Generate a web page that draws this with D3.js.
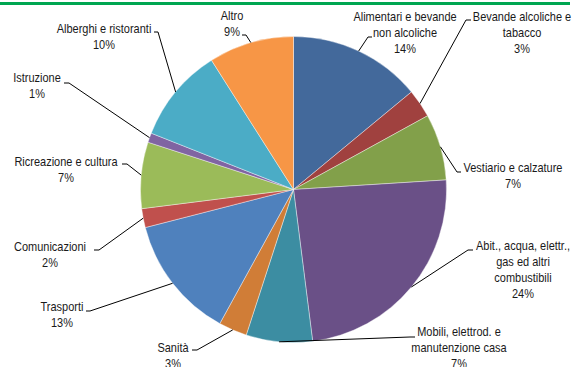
<!DOCTYPE html>
<html>
<head>
<meta charset="utf-8">
<script src="https://cdn.jsdelivr.net/npm/d3@7"></script>
<style>
  html, body { margin: 0; padding: 0; background: #fff; }
  svg { display: block; }
  text { font-family: "Liberation Sans", Arial, sans-serif; font-size: 13.4px; fill: #1a1a1a; }
</style>
</head>
<body>
<svg id="chart" width="574" height="367"></svg>
<script>
// Household spending shares by category (percent)
const categories = [
  "Alimentari e bevande\nnon alcoliche",
  "Bevande alcoliche e\ntabacco",
  "Vestiario e calzature",
  "Abit., acqua, elettr.,\ngas ed altri\ncombustibili",
  "Mobili, elettrod. e\nmanutenzione casa",
  "Sanità",
  "Trasporti",
  "Comunicazioni",
  "Ricreazione e cultura",
  "Istruzione",
  "Alberghi e ristoranti",
  "Altro"
];
const values = [14, 3, 7, 24, 7, 3, 13, 2, 7, 1, 10, 9];
const colors = [
  "#43699b", "#a0413f", "#82a04a", "#6a5087", "#3c8da2", "#d07d37",
  "#4f81bd", "#c0504d", "#9bbb59", "#8064a2", "#4bacc6", "#f79646"
];

// Label placement: text centre x, first baseline y, leader elbow (ex, ey), tick end x
const labelLayout = [
  { cx: 405, y: 21,  ex: 368, ey: 37,  tx: 372 },
  { cx: 522, y: 21,  ex: 466, ey: 20,  tx: 471 },
  { cx: 513, y: 172, ex: 457, ey: 172, tx: 461 },
  { cx: 523, y: 250, ex: 468, ey: 250, tx: 473 },
  { cx: 459, y: 336, ex: 410, ey: 337, tx: 415 },
  { cx: 173, y: 352, ex: 197, ey: 350, tx: 192 },
  { cx: 62,  y: 311, ex: 90,  ey: 311, tx: 86 },
  { cx: 50,  y: 251, ex: 99,  ey: 250, tx: 94 },
  { cx: 66,  y: 166, ex: 127, ey: 164, tx: 122 },
  { cx: 37,  y: 82,  ex: 69,  ey: 83,  tx: 64 },
  { cx: 104, y: 33,  ex: 158, ey: 32,  tx: 154 },
  { cx: 232, y: 20,  ex: 246, ey: 35,  tx: 242 }
];

const cx = 293.5, cy = 189.5, R = 153;
const lineH = 16;
const narrow = 0.82;   // horizontal condensing of the label face

const svg = d3.select("#chart");

// Green rule across the top
svg.append("rect")
  .attr("x", 0).attr("y", 2)
  .attr("width", 570).attr("height", 3)
  .attr("fill", "#00a651");

const data = categories.map((c, i) => ({ name: c, value: values[i], color: colors[i], layout: labelLayout[i] }));

const pie = d3.pie()
  .value(d => d.value)
  .sort(null)
  .startAngle(0)
  .endAngle(2 * Math.PI);

const arc = d3.arc().innerRadius(0).outerRadius(R);
const arcs = pie(data);

const g = svg.append("g").attr("transform", `translate(${cx},${cy})`);

g.selectAll("path.slice")
  .data(arcs)
  .enter().append("path")
  .attr("class", "slice")
  .attr("d", arc)
  .attr("fill", d => d.data.color)
  .attr("stroke", "#ffffff")
  .attr("stroke-width", 0.4);

// Leader lines from the slice mid-point on the rim to the label
const line = d3.line();
svg.selectAll("path.leader")
  .data(arcs)
  .enter().append("path")
  .attr("class", "leader")
  .attr("d", d => {
    const a = (d.startAngle + d.endAngle) / 2;
    const px = cx + R * Math.sin(a);
    const py = cy - R * Math.cos(a);
    const L = d.data.layout;
    return line([[px, py], [L.ex, L.ey], [L.tx, L.ey]]);
  })
  .attr("fill", "none")
  .attr("stroke", "#000")
  .attr("stroke-width", 1);

// Labels: category name lines followed by the percentage
const labels = svg.selectAll("text.label")
  .data(data)
  .enter().append("text")
  .attr("class", "label")
  .attr("text-anchor", "middle")
  .attr("transform", d => `translate(${d.layout.cx},0) scale(${narrow},1)`);

labels.each(function(d) {
  const lines = d.name.split("\n").concat([d.value + "%"]);
  const t = d3.select(this);
  lines.forEach((s, i) => {
    t.append("tspan")
      .attr("x", 0)
      .attr("y", d.layout.y + i * lineH)
      .text(s);
  });
});
</script>
</body>
</html>
